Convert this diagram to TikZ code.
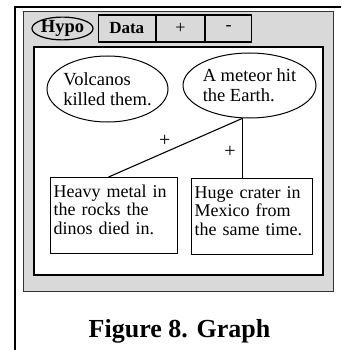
\documentclass[tikz,border=0pt]{standalone}
\usepackage{fontspec}
\setmainfont{Liberation Serif}
\usetikzlibrary{shapes.geometric,positioning}
\definecolor{panelgray}{RGB}{217,217,217}
\begin{document}
\begin{tikzpicture}
[
    x=1pt, y=-1pt,
    every node/.style={font=\fontsize{18}{20}\selectfont},
    tab/.style={draw, fill=panelgray, line width=1.2pt, minimum height=27pt, inner sep=0pt},
    claim/.style={draw, ellipse, line width=1pt, align=left, inner xsep=-2pt, inner ysep=0pt,
        font=\fontsize{18.5}{20}\selectfont},
    evidence/.style={draw, rectangle, line width=1.2pt, align=left, inner sep=3pt,
        text height=16.5pt, text depth=53.5pt, anchor=north west, font=\fontsize{18}{18.7}\selectfont},
    link/.style={line width=1.1pt}
]
    \useasboundingbox (0,0) rectangle (341,350);

    % frame and panel
    \draw[line width=2pt] (15,350) -- (15,7) -- (341,7);
    \draw[fill=panelgray, draw=black!80, line width=1pt] (23,12) rectangle (333,291);
    \draw[fill=white, line width=1.5pt] (34,47) rectangle (323,275);

    % tabs
    \node [draw, ellipse, fill=panelgray, line width=1.2pt, inner sep=0pt,
        minimum width=59pt, minimum height=21pt, font=\bfseries\fontsize{18.5}{18}\selectfont]
        (hypo) at (62.5,28.5) {Hypo};
    \node [tab, minimum width=57pt, font=\bfseries\fontsize{17}{18}\selectfont, right=4pt of hypo] (data) {Data};
    \node [tab, minimum width=48pt, right=0pt of data] (plus) {+};
    \node [tab, minimum width=46pt, right=0pt of plus] (minus) {-};

    % graph
    \node [claim, minimum width=121pt, minimum height=66pt] (volcano) at (107.5,89)
        {Volcanos\\killed them.};
    \node [claim, minimum width=133pt, minimum height=65pt] (meteor) at (249.5,85.5)
        {A meteor hit\\the Earth.};
    \node [evidence, text width=121pt] (metal) at (50,177)
        {Heavy metal in\\the rocks the\\dinos died in.};
    \node [evidence, text width=115pt] (crater) at (191,178)
        {Huge crater in\\Mexico from\\the same time.};

    \coordinate (fork) at (meteor.258);
    \draw [link] (fork) -- node[pos=.58, above=2pt, font=\fontsize{20}{20}\selectfont] {+} ([xshift=-5.5pt]metal.north);
    \draw [link] (fork) -- node[pos=.57, left=3pt, font=\fontsize{20}{20}\selectfont] {+} (fork |- crater.north);

    \node [font=\bfseries\fontsize{26}{30}\selectfont, anchor=base] (caption) at (179.5,337)
        {Figure 8. Graph};
\end{tikzpicture}
\end{document}
